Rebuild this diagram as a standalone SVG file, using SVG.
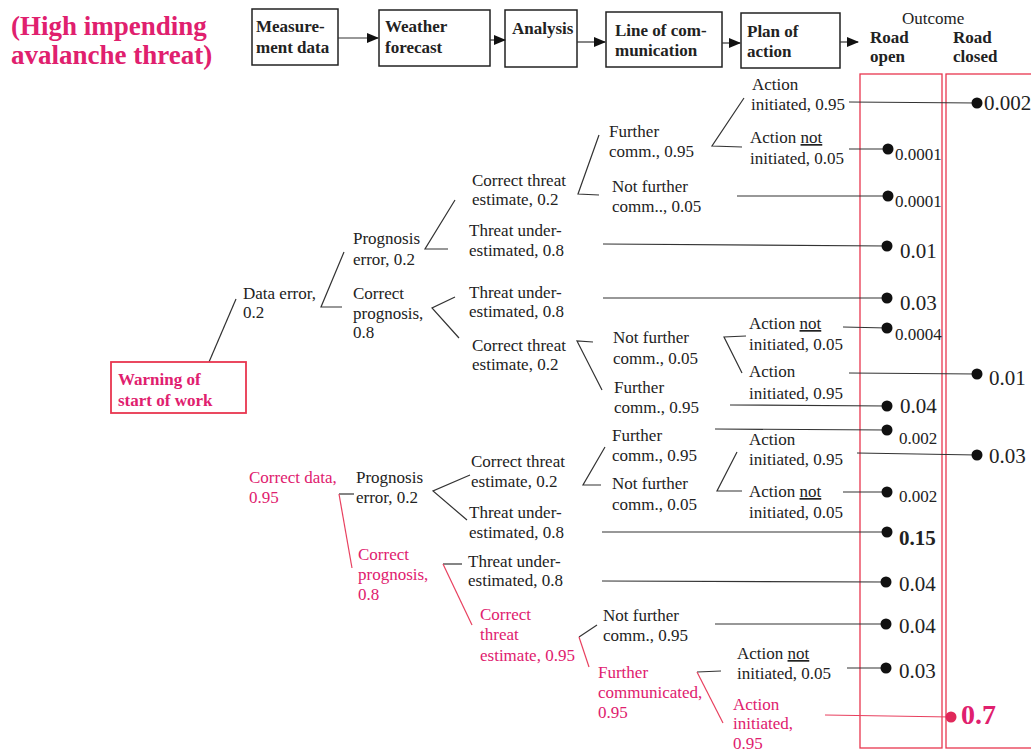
<svg xmlns="http://www.w3.org/2000/svg" width="1031" height="751" viewBox="0 0 1031 751">
<style>
text{font-family:"Liberation Serif","Times New Roman",serif;fill:#222}
.l{font-size:17px}
.r{fill:#e0206e}
.b{font-weight:bold}
.hd{font-size:17px;font-weight:bold}
.sm{font-size:17px}
.lg{font-size:21px}
.box{fill:#fff;stroke:#222;stroke-width:1.5}
.rbox{fill:none;stroke:#e8364f;stroke-width:1.3}
.c{stroke:#333;stroke-width:1.2;fill:none}
.cr{stroke:#e8405f;stroke-width:1.2;fill:none}
.dot{fill:#111}
.u{text-decoration:underline}
</style>
<defs>
<marker id="ah" markerWidth="12" markerHeight="10" refX="11" refY="5" orient="auto" markerUnits="userSpaceOnUse">
<path d="M0,0 L12,5 L0,10 Z" fill="#111"/>
</marker>
</defs>
<rect width="1031" height="751" fill="#fff"/>

<g id="title">
<text x="11" y="35" class="b r" style="font-size:27px">(High impending</text>
<text x="11" y="64" class="b r" style="font-size:27px">avalanche threat)</text>
</g>

<g id="header">
<g id="h1"><rect x="252" y="9" width="86" height="56" class="box"/><text x="256" y="32" class="hd">Measure-</text><text x="256" y="53" class="hd">ment data</text></g>
<g id="h2"><rect x="379" y="10" width="111" height="56" class="box"/><text x="385" y="32" class="hd">Weather</text><text x="385" y="53" class="hd">forecast</text></g>
<g id="h3"><rect x="505" y="10" width="72" height="57" class="box"/><text x="512" y="34" class="hd">Analysis</text></g>
<g id="h4"><rect x="606" y="12" width="116" height="55" class="box"/><text x="615" y="36" class="hd">Line of com-</text><text x="615" y="56" class="hd">munication</text></g>
<g id="h5"><rect x="741" y="13" width="99" height="55" class="box"/><text x="747" y="37" class="hd">Plan of</text><text x="747" y="57" class="hd">action</text></g>
<g id="outcome">
<text x="902" y="24" class="l">Outcome</text>
<text x="870" y="43" class="hd">Road</text><text x="870" y="62" class="hd">open</text>
<text x="953" y="43" class="hd">Road</text><text x="953" y="62" class="hd">closed</text>
</g>
</g>

<g id="columns">
<rect x="860" y="74" width="82" height="674" class="rbox"/>
<rect x="946" y="74" width="100" height="674" class="rbox"/>
</g>

<g id="connectors">
<line x1="338" y1="38" x2="378" y2="38" class="c" marker-end="url(#ah)"/>
<line x1="490" y1="40" x2="505" y2="40" class="c" marker-end="url(#ah)"/>
<line x1="577" y1="42" x2="605" y2="42" class="c" marker-end="url(#ah)"/>
<line x1="722" y1="43" x2="740" y2="43" class="c" marker-end="url(#ah)"/>
<line x1="840" y1="42" x2="858" y2="42" class="c" marker-end="url(#ah)"/>

<line x1="209" y1="362" x2="236" y2="299" class="c"/>
<polyline points="344,252 321,307 342,307" class="c"/>
<polyline points="455,200 425,249 448,249" class="c"/>
<polyline points="455,297 432,308 459,338" class="c"/>
<polyline points="599,135 578,194 599,195" class="c"/>
<polyline points="744,98 712,146 742,147" class="c"/>
<polyline points="593,342 577,341 602,390" class="c"/>
<polyline points="746,336 724,337 742,373" class="c"/>

<polyline points="354,494 339,494" class="c"/>
<line x1="339" y1="494" x2="352" y2="568" class="cr"/>
<polyline points="470,475 433,491 467,520" class="c"/>
<polyline points="605,447 583,485 601,485" class="c"/>
<polyline points="737,452 717,491 742,491" class="c"/>
<line x1="443" y1="564" x2="462" y2="564" class="c"/>
<line x1="443" y1="564" x2="472" y2="625" class="cr"/>
<line x1="579" y1="637" x2="597" y2="625" class="c"/>
<line x1="579" y1="637" x2="589" y2="667" class="cr"/>
<line x1="697" y1="672" x2="721" y2="671" class="c"/>
<line x1="697" y1="672" x2="723" y2="723" class="cr"/>

<line x1="849" y1="102" x2="977" y2="103" class="c"/>
<line x1="849" y1="149" x2="888" y2="149" class="c"/>
<line x1="737" y1="196" x2="888" y2="196" class="c"/>
<line x1="603" y1="244" x2="887" y2="246" class="c"/>
<line x1="603" y1="298" x2="887" y2="298" class="c"/>
<line x1="843" y1="327" x2="887" y2="328" class="c"/>
<line x1="849" y1="373" x2="977" y2="374" class="c"/>
<line x1="730" y1="405" x2="887" y2="406" class="c"/>
<line x1="715" y1="429" x2="887" y2="430" class="c"/>
<line x1="857" y1="453" x2="977" y2="455" class="c"/>
<line x1="843" y1="492" x2="887" y2="492" class="c"/>
<line x1="602" y1="532" x2="887" y2="532" class="c"/>
<line x1="602" y1="581" x2="886" y2="582" class="c"/>
<line x1="715" y1="624" x2="886" y2="624" class="c"/>
<line x1="847" y1="668" x2="886" y2="668" class="c"/>
<line x1="825" y1="715" x2="951" y2="717" class="cr"/>
</g>

<g id="warning">
<rect x="111" y="362" width="135" height="51" class="rbox" style="stroke-width:1.8"/>
<text x="118" y="385" class="l b r">Warning of</text>
<text x="118" y="406" class="l b r">start of work</text>
</g>

<g id="n-data-error"><text x="243" y="299" class="l">Data error,</text><text x="243" y="318" class="l">0.2</text></g>
<g id="n-prog-err1"><text x="353" y="244" class="l">Prognosis</text><text x="353" y="265" class="l">error, 0.2</text></g>
<g id="n-corr-prog1"><text x="353" y="299" class="l">Correct</text><text x="353" y="319" class="l">prognosis,</text><text x="353" y="338" class="l">0.8</text></g>
<g id="n-cte1"><text x="472" y="186" class="l">Correct threat</text><text x="472" y="205" class="l">estimate, 0.2</text></g>
<g id="n-tu1"><text x="469" y="236" class="l">Threat under-</text><text x="469" y="256" class="l">estimated, 0.8</text></g>
<g id="n-tu2"><text x="469" y="298" class="l">Threat under-</text><text x="469" y="317" class="l">estimated, 0.8</text></g>
<g id="n-cte2"><text x="472" y="351" class="l">Correct threat</text><text x="472" y="370" class="l">estimate, 0.2</text></g>
<g id="n-fc1"><text x="609" y="137" class="l">Further</text><text x="609" y="157" class="l">comm., 0.95</text></g>
<g id="n-nfc1"><text x="612" y="192" class="l">Not further</text><text x="612" y="212" class="l">comm.., 0.05</text></g>
<g id="n-ai1"><text x="752" y="90" class="l">Action</text><text x="751" y="110" class="l">initiated, 0.95</text></g>
<g id="n-ani1"><text x="750" y="143" class="l">Action <tspan class="u">not</tspan></text><text x="750" y="164" class="l">initiated, 0.05</text></g>
<g id="n-nfc2"><text x="613" y="343" class="l">Not further</text><text x="613" y="364" class="l">comm., 0.05</text></g>
<g id="n-fc2"><text x="614" y="393" class="l">Further</text><text x="614" y="413" class="l">comm., 0.95</text></g>
<g id="n-ani2"><text x="749" y="329" class="l">Action <tspan class="u">not</tspan></text><text x="749" y="350" class="l">initiated, 0.05</text></g>
<g id="n-ai2"><text x="749" y="377" class="l">Action</text><text x="749" y="399" class="l">initiated, 0.95</text></g>

<g id="n-correct-data"><text x="249" y="483" class="l r">Correct data,</text><text x="249" y="503" class="l r">0.95</text></g>
<g id="n-prog-err2"><text x="356" y="483" class="l">Prognosis</text><text x="356" y="503" class="l">error, 0.2</text></g>
<g id="n-cte3"><text x="471" y="467" class="l">Correct threat</text><text x="471" y="487" class="l">estimate, 0.2</text></g>
<g id="n-tu3"><text x="469" y="518" class="l">Threat under-</text><text x="469" y="538" class="l">estimated, 0.8</text></g>
<g id="n-fc3"><text x="612" y="441" class="l">Further</text><text x="612" y="461" class="l">comm., 0.95</text></g>
<g id="n-nfc3"><text x="612" y="489" class="l">Not further</text><text x="612" y="510" class="l">comm., 0.05</text></g>
<g id="n-ai3"><text x="749" y="445" class="l">Action</text><text x="749" y="465" class="l">initiated, 0.95</text></g>
<g id="n-ani3"><text x="749" y="497" class="l">Action <tspan class="u">not</tspan></text><text x="749" y="518" class="l">initiated, 0.05</text></g>
<g id="n-corr-prog2"><text x="358" y="560" class="l r">Correct</text><text x="358" y="580" class="l r">prognosis,</text><text x="358" y="600" class="l r">0.8</text></g>
<g id="n-tu4"><text x="468" y="567" class="l">Threat under-</text><text x="468" y="586" class="l">estimated, 0.8</text></g>
<g id="n-cte4"><text x="480" y="620" class="l r">Correct</text><text x="480" y="640" class="l r">threat</text><text x="480" y="661" class="l r">estimate, 0.95</text></g>
<g id="n-nfc4"><text x="603" y="621" class="l">Not further</text><text x="603" y="641" class="l">comm., 0.95</text></g>
<g id="n-fc4"><text x="598" y="678" class="l r">Further</text><text x="598" y="698" class="l r">communicated,</text><text x="598" y="718" class="l r">0.95</text></g>
<g id="n-ani4"><text x="737" y="659" class="l">Action <tspan class="u">not</tspan></text><text x="737" y="679" class="l">initiated, 0.05</text></g>
<g id="n-ai4"><text x="733" y="710" class="l r">Action</text><text x="733" y="729" class="l r">initiated,</text><text x="733" y="749" class="l r">0.95</text></g>

<g id="outcomes">
<circle cx="977" cy="103" r="5.5" class="dot"/><text x="984" y="110" class="lg">0.002</text>
<circle cx="888" cy="149" r="5.5" class="dot"/><text x="895" y="160" class="sm">0.0001</text>
<circle cx="888" cy="196" r="5.5" class="dot"/><text x="895" y="207" class="sm">0.0001</text>
<circle cx="887" cy="246" r="5.5" class="dot"/><text x="900" y="258" class="lg">0.01</text>
<circle cx="887" cy="298" r="5.5" class="dot"/><text x="900" y="310" class="lg">0.03</text>
<circle cx="887" cy="328" r="5.5" class="dot"/><text x="895" y="340" class="sm">0.0004</text>
<circle cx="977" cy="374" r="5.5" class="dot"/><text x="989" y="385" class="lg">0.01</text>
<circle cx="887" cy="406" r="5.5" class="dot"/><text x="900" y="413" class="lg">0.04</text>
<circle cx="887" cy="430" r="5.5" class="dot"/><text x="899" y="444" class="sm">0.002</text>
<circle cx="977" cy="455" r="5.5" class="dot"/><text x="989" y="463" class="lg">0.03</text>
<circle cx="887" cy="492" r="5.5" class="dot"/><text x="899" y="502" class="sm">0.002</text>
<circle cx="887" cy="532" r="5.5" class="dot"/><text x="899" y="545" class="lg b">0.15</text>
<circle cx="886" cy="582" r="5.5" class="dot"/><text x="899" y="591" class="lg">0.04</text>
<circle cx="886" cy="624" r="5.5" class="dot"/><text x="899" y="633" class="lg">0.04</text>
<circle cx="886" cy="668" r="5.5" class="dot"/><text x="899" y="678" class="lg">0.03</text>
<circle cx="951" cy="717" r="5.5" fill="#e0285a"/><text x="961" y="724" class="b r" style="font-size:28px">0.7</text>
</g>
</svg>
